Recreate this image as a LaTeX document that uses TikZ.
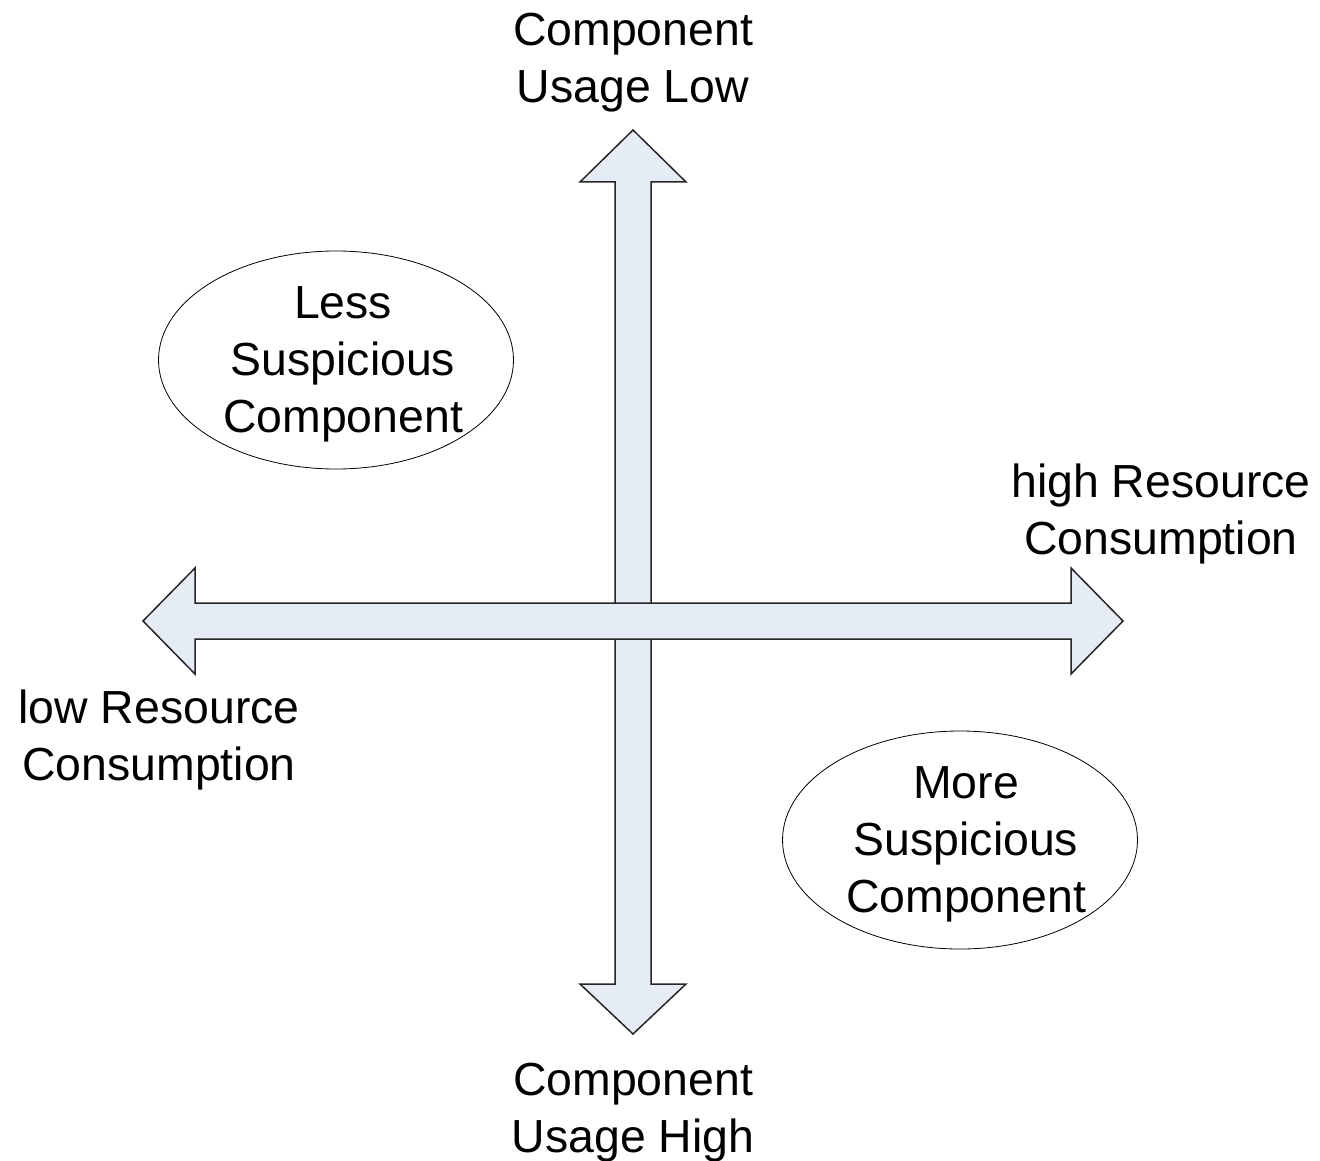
\documentclass[tikz,border=0pt]{standalone}
\usepackage{fontspec}
\setmainfont{Liberation Sans}
\usetikzlibrary{shapes.geometric}
\definecolor{axisfill}{RGB}{230,236,246}

\begin{document}
\begin{tikzpicture}[x=0.5pt, y=-0.5pt,
    axis/.style = {draw=black!85, fill=axisfill, line width=0.75pt, line join=miter},
    every node/.style = {align=center, inner sep=0pt, font=\fontsize{23.2}{28.5}\selectfont},
    region/.style = {ellipse, draw, line width=0.4pt, minimum width=177.5pt, minimum height=109pt}]
  \useasboundingbox (0,0) rectangle (1320,1160);
  % usage axis (drawn first, the resource axis lies over it)
  \draw[axis] (633,130) -- (686,182) -- (651,182) -- (651,984) -- (686,984)
    -- (633,1034) -- (580,984) -- (615,984) -- (615,182) -- (580,182) -- cycle;
  % resource axis
  \draw[axis] (143,621) -- (195,568) -- (195,603) -- (1071,603) -- (1071,568)
    -- (1123,621) -- (1071,674) -- (1071,639) -- (195,639) -- (195,674) -- cycle;
  \node (usagelow) at (633,63) {Component\\Usage Low};
  \node (usagehigh) at (633,1113) {Component\\Usage High};
  \node (reshigh) at (1161,514) {high Resource\\Consumption};
  \node (reslow) at (159,740) {low Resource\\Consumption};
  \node[region] (lesssusp) at (336,360) {};
  \node at ([xshift=3.5pt, yshift=-2pt]lesssusp.center) {Less\\Suspicious\\Component};
  \node[region] (moresusp) at (960,840) {};
  \node at ([xshift=3pt, yshift=-2pt]moresusp.center) {More\\Suspicious\\Component};
\end{tikzpicture}
\end{document}
